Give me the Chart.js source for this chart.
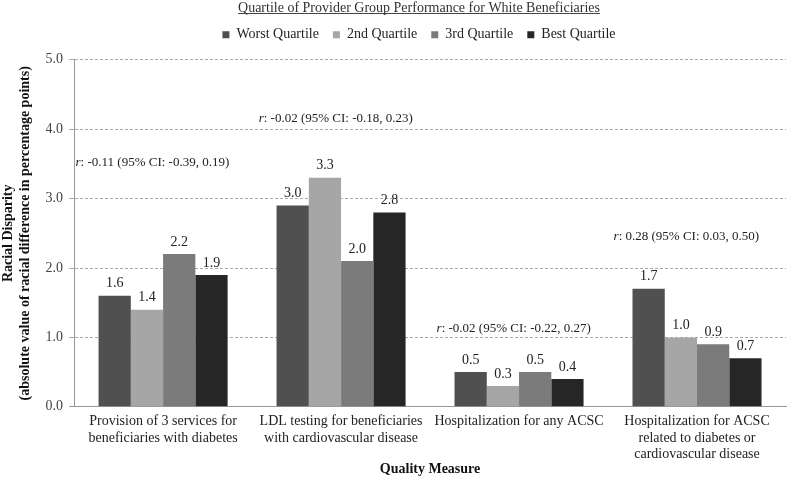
<!DOCTYPE html>
<html>
<head>
<meta charset="utf-8">
<script src="https://cdn.jsdelivr.net/npm/chart.js@4.4.0/dist/chart.umd.min.js"></script>
<style>
  html, body { margin: 0; padding: 0; background: #fff; }
  #wrap { width: 787px; height: 478px; position: relative; }
</style>
</head>
<body>
<div id="wrap"><canvas id="chart" width="787" height="478"></canvas></div>
<script>
// categories (multi-line labels)
const categories = [
    ['Provision of 3 services for', 'beneficiaries with diabetes'],
    ['LDL testing for beneficiaries', 'with cardiovascular disease'],
    ['Hospitalization for any ACSC'],
    ['Hospitalization for ACSC', 'related to diabetes or', 'cardiovascular disease']
];
const seriesNames = ['Worst Quartile', '2nd Quartile', '3rd Quartile', 'Best Quartile'];

// bar heights as drawn, per series (one value per category)
const worstVals = [1.6, 2.9, 0.5, 1.7];
const secondVals = [1.4, 3.3, 0.3, 1.0];
const thirdVals = [2.2, 2.1, 0.5, 0.9];
const bestVals = [1.9, 2.8, 0.4, 0.7];

// printed labels above bars
const worstLabels = ['1.6', '3.0', '0.5', '1.7'];
const secondLabels = ['1.4', '3.3', '0.3', '1.0'];
const thirdLabels = ['2.2', '2.0', '0.5', '0.9'];
const bestLabels = ['1.9', '2.8', '0.4', '0.7'];

// correlation notes per category
const corrNotes = [
    ': -0.11 (95% CI: -0.39, 0.19)',
    ': -0.02 (95% CI: -0.18, 0.23)',
    ': -0.02 (95% CI: -0.22, 0.27)',
    ': 0.28 (95% CI: 0.03, 0.50)'
];

const yTicks = [0, 1, 2, 3, 4, 5];

const SERIF = '"Liberation Serif", "Times New Roman", serif';
const colors = ['#505050', '#a6a6a6', '#7b7b7b', '#262626'];
const allVals = [worstVals, secondVals, thirdVals, bestVals];
const allLabels = [worstLabels, secondLabels, thirdLabels, bestLabels];

// where notes sit: offset from category centre (in category units) and y value
const noteAnchor = [
    { dx: -0.06, y: 3.52 },
    { dx: -0.03, y: 4.15 },
    { dx: -0.03, y: 1.12 },
    { dx: -0.06, y: 2.45 }
];

// title + legend are centred a bit right of the canvas centre
const HEADER_SHIFT = 26;

const barLabelPlugin = {
    id: 'barLabels',
    afterDatasetsDraw(chart) {
        const ctx = chart.ctx;
        ctx.save();
        ctx.font = '14px ' + SERIF;
        ctx.fillStyle = '#222';
        ctx.textAlign = 'center';
        ctx.textBaseline = 'bottom';
        chart.data.datasets.forEach((ds, i) => {
            chart.getDatasetMeta(i).data.forEach((bar, j) => {
                ctx.fillText(allLabels[i][j], bar.x, bar.y - 5);
            });
        });
        ctx.restore();
    }
};

// small gap box between legend and plot area
const spacerPlugin = {
    id: 'spacer',
    beforeInit(chart) {
        Chart.layouts.addBox(chart, {
            position: 'top',
            weight: 500,
            fullSize: true,
            options: {},
            width: 0,
            height: 0,
            isHorizontal() { return true; },
            update(maxWidth) { this.width = maxWidth; this.height = 8; },
            draw() {}
        });
    },
    afterLayout(chart) {
        [chart.titleBlock, chart.legend].forEach(b => {
            if (b) { b.left += HEADER_SHIFT; b.right += HEADER_SHIFT; }
        });
    }
};

const notesPlugin = {
    id: 'corrNotes',
    afterDraw(chart) {
        const ctx = chart.ctx;
        const xs = chart.scales.x, ys = chart.scales.y;
        const step = xs.getPixelForValue(1) - xs.getPixelForValue(0);
        ctx.save();
        ctx.fillStyle = '#222';
        ctx.textBaseline = 'middle';
        corrNotes.forEach((txt, i) => {
            const cx = xs.getPixelForValue(i) + noteAnchor[i].dx * step;
            const cy = ys.getPixelForValue(noteAnchor[i].y);
            ctx.font = 'italic 13px ' + SERIF;
            const wr = ctx.measureText('r').width;
            ctx.font = '13px ' + SERIF;
            const wt = ctx.measureText(txt).width;
            let x0 = cx - (wr + wt) / 2;
            ctx.textAlign = 'left';
            ctx.font = 'italic 13px ' + SERIF;
            ctx.fillText('r', x0, cy);
            ctx.font = '13px ' + SERIF;
            ctx.fillText(txt, x0 + wr, cy);
        });

        // underline the title
        const t = chart.titleBlock;
        if (t) {
            ctx.font = '14px ' + SERIF;
            const w = ctx.measureText(chart.options.plugins.title.text).width;
            const mid = (t.left + t.right) / 2;
            const yU = t.top + 14;
            ctx.strokeStyle = '#444';
            ctx.lineWidth = 1;
            ctx.beginPath();
            ctx.moveTo(mid - w / 2, Math.round(yU) - 0.5);
            ctx.lineTo(mid + w / 2, Math.round(yU) - 0.5);
            ctx.stroke();
        }
        ctx.restore();
    }
};

new Chart(document.getElementById('chart'), {
    type: 'bar',
    data: {
        labels: categories,
        datasets: seriesNames.map((name, i) => ({
            label: name,
            data: allVals[i],
            backgroundColor: colors[i],
            borderWidth: 0,
            barPercentage: 1.0,
            categoryPercentage: 0.725
        }))
    },
    options: {
        responsive: false,
        animation: false,
        devicePixelRatio: 1,
        layout: { padding: { top: 0, right: 1, left: 0, bottom: 0 } },
        plugins: {
            title: {
                display: true,
                text: 'Quartile of Provider Group Performance for White Beneficiaries',
                color: '#333',
                font: { family: SERIF, size: 14, weight: 'normal' },
                padding: { top: 0, bottom: -3 }
            },
            legend: {
                display: true,
                labels: {
                    color: '#222',
                    font: { family: SERIF, size: 14 },
                    boxWidth: 7,
                    boxHeight: 7,
                    padding: 14
                }
            },
            tooltip: { enabled: false }
        },
        scales: {
            x: {
                grid: { display: false, drawTicks: false },
                border: { color: '#999', width: 1 },
                ticks: {
                    color: '#222',
                    font: { family: SERIF, size: 14, lineHeight: 1.2 },
                    maxRotation: 0,
                    autoSkip: false,
                    padding: 6
                },
                title: {
                    display: true,
                    text: 'Quality Measure',
                    color: '#111',
                    font: { family: SERIF, size: 14, weight: 'bold' },
                    padding: { top: -8, bottom: 0 }
                }
            },
            y: {
                min: 0,
                max: 5,
                afterBuildTicks(axis) {
                    axis.ticks = yTicks.map(v => ({ value: v }));
                },
                ticks: {
                    color: '#444',
                    font: { family: SERIF, size: 14 },
                    padding: 6,
                    callback: v => v.toFixed(1)
                },
                grid: {
                    color: ctx => ctx.tick && ctx.tick.value === 0 ? '#999' : '#aaa',
                    tickLength: 5,
                    drawTicks: true
                },
                border: { color: '#999', width: 1, dash: [3, 2] },
                title: {
                    display: true,
                    text: ['Racial Disparity', '(absolute value of racial difference in percentage points)'],
                    color: '#111',
                    font: { family: SERIF, size: 14, weight: 'bold', lineHeight: 1.2 },
                    padding: { top: 0, bottom: 6 }
                }
            }
        }
    },
    plugins: [barLabelPlugin, spacerPlugin, notesPlugin]
});
</script>
</body>
</html>
